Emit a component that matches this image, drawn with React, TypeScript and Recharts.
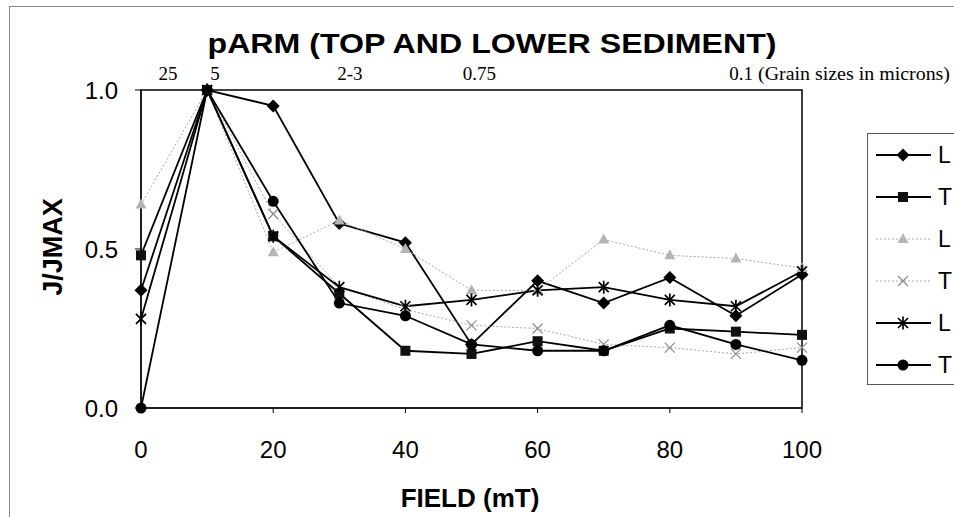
import React from "react";
import {
  Legend,
  Line,
  LineChart,
  ReferenceArea,
  XAxis,
  YAxis
} from "recharts";

// field steps (mT)
const fields = [0, 10, 20, 30, 40, 50, 60, 70, 80, 90, 100];

// normalised pARM J/Jmax per series
const lowerDiamond = [0.37, 1.0, 0.95, 0.58, 0.52, 0.2, 0.4, 0.33, 0.41, 0.29, 0.42];
const topSquare = [0.48, 1.0, 0.54, 0.36, 0.18, 0.17, 0.21, 0.18, 0.25, 0.24, 0.23];
const lowerTriangle = [0.64, 1.0, 0.49, 0.59, 0.5, 0.37, 0.37, 0.53, 0.48, 0.47, 0.44];
const topCross = [0.28, 1.0, 0.61, 0.38, 0.31, 0.26, 0.25, 0.2, 0.19, 0.17, 0.19];
const lowerStar = [0.28, 1.0, 0.54, 0.38, 0.32, 0.34, 0.37, 0.38, 0.34, 0.32, 0.43];
const topCircle = [0.0, 1.0, 0.65, 0.33, 0.29, 0.2, 0.18, 0.18, 0.26, 0.2, 0.15];

// grain sizes (microns) shown along the top
const grainAt = [4.1, 11.2, 31.6, 51.2, 90.8];
const grainLabels = ["25", "5", "2-3", "0.75", "0.1"];

const xTicks = [0, 20, 40, 60, 80, 100];
const yTicks = [0, 0.5, 1];

const SANS = "'Liberation Sans', Arial, sans-serif";
const SERIF = "'Liberation Serif', 'Times New Roman', serif";
const GREY = "#a8a8a8";

type Marker = "diamond" | "square" | "triangle" | "cross" | "star" | "circle";

const seriesDefs: Array<{ key: string; name: string; values: number[]; marker: Marker; grey: boolean }> = [
  { key: "l1", name: "L", values: lowerDiamond, marker: "diamond", grey: false },
  { key: "t1", name: "T", values: topSquare, marker: "square", grey: false },
  { key: "l2", name: "L", values: lowerTriangle, marker: "triangle", grey: true },
  { key: "t2", name: "T", values: topCross, marker: "cross", grey: true },
  { key: "l3", name: "L", values: lowerStar, marker: "star", grey: false },
  { key: "t3", name: "T", values: topCircle, marker: "circle", grey: false }
];

const data = fields.map((f, i) => {
  const row: Record<string, number> = { field: f };
  seriesDefs.forEach((s) => (row[s.key] = s.values[i]));
  return row;
});

function drawMarker(kind: Marker, cx: number, cy: number, key?: string) {
  switch (kind) {
    case "diamond":
      return <path key={key} d={`M${cx},${cy - 6.5}L${cx + 6.5},${cy}L${cx},${cy + 6.5}L${cx - 6.5},${cy}Z`} fill="#000" />;
    case "square":
      return <rect key={key} x={cx - 5} y={cy - 5} width={10} height={10} fill="#111" />;
    case "triangle":
      return <path key={key} d={`M${cx},${cy - 6}L${cx + 5.5},${cy + 4}L${cx - 5.5},${cy + 4}Z`} fill="#b4b4b4" />;
    case "cross":
      return (
        <path key={key} d={`M${cx - 5},${cy - 5}L${cx + 5},${cy + 5}M${cx - 5},${cy + 5}L${cx + 5},${cy - 5}`} stroke="#8a8a8a" strokeWidth={1.2} fill="none" />
      );
    case "star":
      return (
        <path
          key={key}
          d={`M${cx - 5},${cy - 5}L${cx + 5},${cy + 5}M${cx - 5},${cy + 5}L${cx + 5},${cy - 5}M${cx},${cy - 6.5}L${cx},${cy + 6.5}`}
          stroke="#000"
          strokeWidth={1.7}
          fill="none"
        />
      );
    default:
      return <circle key={key} cx={cx} cy={cy} r={5.5} fill="#000" />;
  }
}

const dotFor = (kind: Marker) => (props: any) => {
  const { cx, cy, index } = props;
  if (cx == null || cy == null) return <g key={`e-${index}`} />;
  return drawMarker(kind, cx, cy, `${kind}-${index}`);
};

function LegendBox() {
  return (
    <div style={{ width: 100, height: 252, border: "1px solid #555", boxSizing: "border-box", background: "#fff" }}>
      <svg width={100} height={250} style={{ display: "block" }}>
        {seriesDefs.map((s, i) => {
          const y = 21 + i * 42;
          return (
            <g key={s.key}>
              <line
                x1={8}
                x2={63}
                y1={y}
                y2={y}
                stroke={s.grey ? GREY : "#000"}
                strokeWidth={s.grey ? 1 : 1.8}
                strokeDasharray={s.grey ? "2 2" : undefined}
              />
              {drawMarker(s.marker, 35, y)}
              <text x={70} y={y + 8} fontFamily={SANS} fontSize={23} fill="#000">
                {s.name}
              </text>
            </g>
          );
        })}
      </svg>
    </div>
  );
}

export default function App() {
  return (
    <div style={{ position: "absolute", left: 0, top: 0, width: 954, height: 517, overflow: "hidden", background: "#fff" }}>
      <LineChart width={954} height={517} data={data} margin={{ top: 60, right: 52, bottom: 69, left: 81 }}>
        <XAxis
          xAxisId="top"
          orientation="top"
          type="number"
          dataKey="field"
          domain={[0, 100]}
          ticks={grainAt}
          tickFormatter={(v: number) => grainLabels[grainAt.indexOf(v)] ?? ""}
          height={30}
          axisLine={false}
          tickLine={false}
          tickSize={0}
          tickMargin={10}
          interval={0}
          tick={{ fontFamily: SERIF, fontSize: 19, fill: "#000" }}
        />
        <XAxis
          type="number"
          dataKey="field"
          domain={[0, 100]}
          ticks={xTicks}
          height={40}
          stroke="#000"
          tickSize={5}
          tickMargin={28}
          interval={0}
          tick={{ fontFamily: SANS, fontSize: 24, fill: "#000" }}
        />
        <YAxis
          type="number"
          domain={[0, 1]}
          ticks={yTicks}
          width={60}
          stroke="#000"
          tickSize={6}
          tickMargin={17}
          interval={0}
          tickFormatter={(v: number) => v.toFixed(1)}
          tick={{ fontFamily: SANS, fontSize: 24, fill: "#000" }}
        />
        <ReferenceArea x1={0} x2={100} y1={0} y2={1} fill="none" stroke="#000" strokeWidth={1.5} ifOverflow="visible" />
        {seriesDefs.map((s) => (
          <Line
            key={s.key}
            dataKey={s.key}
            name={s.name}
            type="linear"
            stroke={s.grey ? GREY : "#000"}
            strokeWidth={s.grey ? 1 : 1.8}
            strokeDasharray={s.grey ? "2 2" : undefined}
            dot={dotFor(s.marker)}
            activeDot={false}
            isAnimationActive={false}
          />
        ))}
        <Legend
          layout="vertical"
          align="right"
          verticalAlign="middle"
          content={() => <LegendBox />}
          wrapperStyle={{ position: "absolute", left: 867, top: 133, width: 100, height: 252 }}
        />
      </LineChart>
      <svg width={954} height={517} style={{ position: "absolute", left: 0, top: 0, pointerEvents: "none" }}>
        <rect x={9.5} y={6.5} width={1000} height={1000} fill="none" stroke="#888" strokeWidth={1} />
        <text x={492} y={53} textAnchor="middle" fontFamily={SANS} fontWeight="bold" fontSize={28} textLength={569} lengthAdjust="spacingAndGlyphs">
          pARM (TOP AND LOWER SEDIMENT)
        </text>
        <text x={758} y={80} fontFamily={SERIF} fontSize={18} textLength={192} lengthAdjust="spacingAndGlyphs">
          (Grain sizes in microns)
        </text>
        <text x={62} y={247} textAnchor="middle" fontFamily={SANS} fontWeight="bold" fontSize={27} transform="rotate(-90 62 247)">
          J/JMAX
        </text>
        <text x={470} y={507} textAnchor="middle" fontFamily={SANS} fontWeight="bold" fontSize={26}>
          FIELD (mT)
        </text>
      </svg>
    </div>
  );
}
